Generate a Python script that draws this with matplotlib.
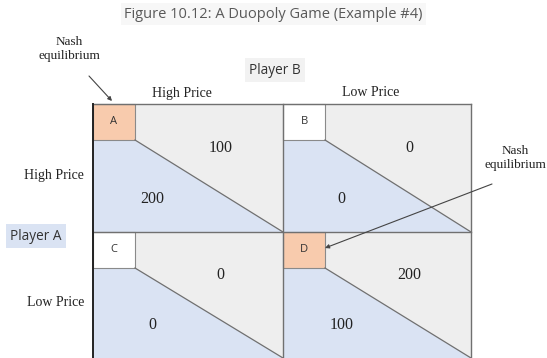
import matplotlib.pyplot as plt
from matplotlib.patches import Polygon, Rectangle

# game data
title = "Figure 10.12: A Duopoly Game (Example #4)"
row_player = "Player A"
col_player = "Player B"
strategies = ["High Price", "Low Price"]
cell_letters = [["A", "B"], ["C", "D"]]
payoff_a = [[200, 0], [0, 100]]   # lower-left number in each cell
payoff_b = [[100, 0], [0, 200]]   # upper-right number in each cell
nash_cells = [(0, 0), (1, 1)]
nash_label = "Nash\nequilibrium"

# layout (pixels, y down)
W, H = 547, 358
col_x = [93, 283, 471]
row_y = [104, 232, 358]
box_w, box_h = 42, 36

blue = "#dae3f3"
gray = "#eeeeee"
orange = "#f8cbad"
line_col = "#707070"
serif = "Liberation Serif"
sans = ["Open Sans", "DejaVu Sans"]

fig = plt.figure(figsize=(W / 100, H / 100), dpi=100)
ax = fig.add_axes([0, 0, 1, 1])
ax.set_xlim(0, W)
ax.set_ylim(H, 0)
ax.axis("off")

for r in range(2):
    for c in range(2):
        x, y = col_x[c], row_y[r]
        w, h = col_x[c + 1] - x, row_y[r + 1] - y
        ax.add_patch(Rectangle((x, y), w, h, facecolor=gray, edgecolor="none"))
        ax.add_patch(Polygon([(x, y + box_h), (x + box_w, y + box_h), (x + w, y + h), (x, y + h)],
                             facecolor=blue, edgecolor="none"))
        ax.plot([x + box_w, x + w], [y + box_h, y + h], color=line_col, lw=0.9)
        fc = orange if (r, c) in nash_cells else "white"
        ax.add_patch(Rectangle((x, y), box_w, box_h, facecolor=fc, edgecolor="#8a8a8a", lw=0.8))
        ax.text(x + box_w / 2, y + box_h / 2, cell_letters[r][c], ha="center", va="center",
                fontsize=8, family=sans, color="#333333")
        ax.text(x + 0.67 * w, y + 0.34 * h, str(payoff_b[r][c]), ha="center", va="center",
                fontsize=11.5, family=serif, color="#222222")
        ax.text(x + 0.31 * w, y + 0.74 * h, str(payoff_a[r][c]), ha="center", va="center",
                fontsize=11.5, family=serif, color="#222222")

# grid lines
for xv in col_x[1:]:
    ax.plot([xv, xv], [row_y[0], row_y[-1]], color=line_col, lw=1.0)
ax.plot([col_x[0], col_x[-1]], [row_y[1], row_y[1]], color=line_col, lw=1.0)
ax.plot([col_x[0], col_x[-1]], [row_y[0], row_y[0]], color=line_col, lw=1.0)
ax.plot([col_x[0], col_x[0]], [row_y[0], row_y[-1]], color="#222222", lw=1.4)

# strategy labels
for c, s in enumerate(strategies):
    ax.text((col_x[c] + col_x[c + 1]) / 2 - 6, row_y[0] - 11, s, ha="center", va="center",
            fontsize=10, family=serif, color="#222222")
for r, s in enumerate(strategies):
    ax.text(col_x[0] - 9, (row_y[r] + row_y[r + 1]) / 2 + 8, s, ha="right", va="center",
            fontsize=10, family=serif, color="#222222")

# player labels
ax.text(275, 70, col_player, ha="center", va="center", fontsize=9.8, family=sans,
        color="#333333", bbox=dict(boxstyle="square,pad=0.3", fc="#f2f2f2", ec="none"))
ax.text(36, 236, row_player, ha="center", va="center", fontsize=9.8, family=sans,
        color="#333333", bbox=dict(boxstyle="square,pad=0.3", fc=blue, ec="none"))

ax.text(W / 2, 14, title, ha="center", va="center", fontsize=10.5, family=sans, color="#595959",
        bbox=dict(boxstyle="square,pad=0.25", fc="#f7f7f7", ec="none"))

# nash annotations
arrow = dict(arrowstyle="-|>", color="#444444", lw=0.8, mutation_scale=6, shrinkA=0, shrinkB=0)
ax.annotate("", xy=(112, 101), xytext=(89, 76), arrowprops=arrow)
ax.text(69, 49, nash_label, ha="center", va="center", fontsize=9.5, family=serif,
        color="#222222", linespacing=1.15)
ax.annotate("", xy=(325, 248), xytext=(492, 184), arrowprops=arrow)
ax.text(515, 158, nash_label, ha="center", va="center", fontsize=9.5, family=serif,
        color="#222222", linespacing=1.15)

fig.savefig("out.png", dpi=100)
